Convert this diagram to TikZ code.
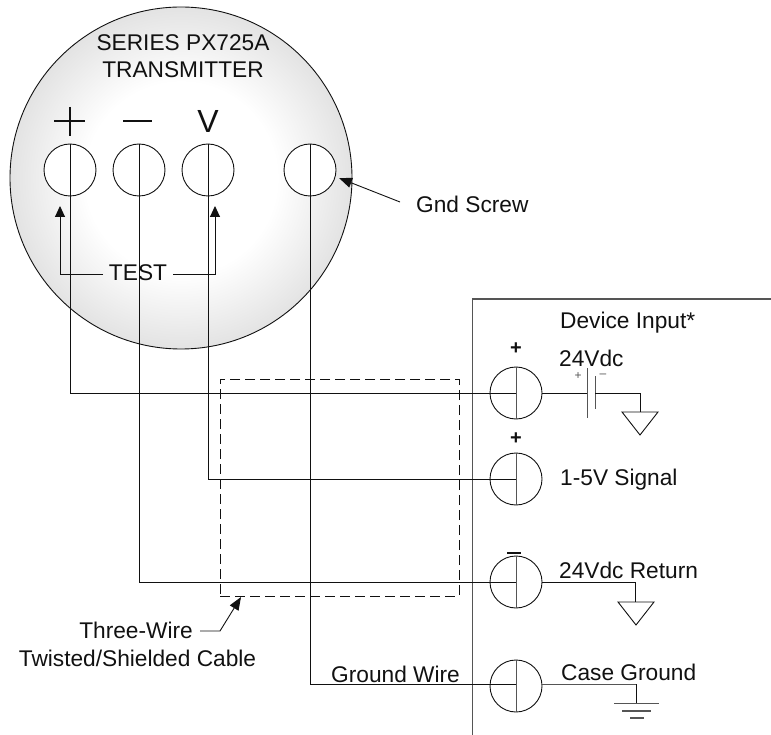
\documentclass[tikz,border=0pt]{standalone}
\usepackage{fontspec}
\setmainfont{Liberation Sans}
\usetikzlibrary{arrows.meta,calc}
\definecolor{ink}{HTML}{111111}
\definecolor{greyink}{HTML}{555555}
\pgfdeclareradialshading{bodyshade}{\pgfpointorigin}{
  color(0bp)=(white); color(14bp)=(white); color(25bp)=(black!11); color(50bp)=(black!11)}
\tikzset{
  x=1pt,y=-1pt,
  wire/.style={draw=ink,line width=0.9pt},
  greywire/.style={draw=greyink,line width=1pt},
  term/.style={circle,draw=ink,fill=white,line width=0.9pt,minimum size=52pt,inner sep=0pt},
  lab/.style={font=\fontsize{22.7}{26}\selectfont,text=ink,inner sep=0pt,anchor=west},
  clab/.style={font=\fontsize{22.7}{26}\selectfont,text=ink,inner sep=0pt,anchor=center},
  plus/.style={font=\fontsize{20}{22}\selectfont\bfseries,text=ink,inner sep=0pt},
  tiny/.style={font=\fontsize{12}{13}\selectfont,text=greyink,inner sep=0pt},
  point/.style={-{Triangle[length=11pt,width=10pt]},wire},
  gndtri/.style={draw=ink,line width=0.9pt},
}
\begin{document}
\begin{tikzpicture}
\useasboundingbox (0,0) rectangle (771,735);
% transmitter body
\node[circle,draw=ink,line width=0.9pt,minimum size=342pt,inner sep=0pt,
      shading=bodyshade] (body) at (181,178) {};
\node[clab] (ser) at (183,43) {SERIES PX725A};
\node[clab] (trn) at (183,70) {TRANSMITTER};
% polarity marks
\draw[ink,line width=1.5pt] (54,121) -- (85,121) (70,107) -- (70,136);
\draw[ink,line width=2pt] (123,121) -- (152,121);
\node[inner sep=0pt,font=\fontsize{32}{34}\selectfont,text=ink] (vlab) at (208,121) {V};
% terminals of the transmitter
\node[term] (tp) at (70,170) {};
\node[term] (tm) at (139,170) {};
\node[term] (tv) at (208,170) {};
\node[term] (tg) at (310,170) {};
% device box
\draw[greywire,line width=1.1pt] (771,299) -- (472.5,299) -- (472.5,735);
% device terminals
\node[term] (dp) at (516,393) {};
\node[term] (ds) at (516,479) {};
\node[term] (dr) at (516,582) {};
\node[term] (dc) at (516,686) {};
\coordinate (gw) at (516,684);
% wires
\draw[wire] (tp.north) -- (tp.north |- dp.center) -- (dp.center);
\draw[wire] (tv.north) -- (tv.north |- ds.center) -- (ds.center);
\draw[wire] (tm.north) -- (tm.north |- dr.center) -- (dr.center);
\draw[wire] (tg.north) -- (tg.north |- gw) -- (gw);
% device terminal bars
\foreach \n in {dp,ds,dr,dc} \draw[greywire] (\n.north) -- (\n.south);
% shield
\node[draw=ink,dash pattern=on 10pt off 5pt,line width=0.9pt,inner sep=0pt,
      minimum width=239pt,minimum height=217pt] (shield) at (339.5,487.5) {};
% TEST
\node[clab] (test) at (138,273) {TEST};
\coordinate (ta) at (60,206);
\coordinate (tb) at (215,206);
\draw[point] (103,274) -| (ta);
\draw[point] (173,274) -| (tb);
% gnd screw
\node[lab] (gs) at (416,204) {Gnd Screw};
\coordinate (gsa) at (400,202);
\draw[point,-{Triangle[length=13pt,width=10pt]}] (gsa) -- (339,178);
% cable label
\node[clab,anchor=east] (c1) at (193,630) {Three-Wire};
\node[clab] (c2) at (137.5,658) {Twisted/Shielded Cable};
\coordinate (ca) at (241,597);
\draw[point,-{Triangle[length=13pt,width=10pt]}] (200,631) -- (220,631) -- (ca);
% device labels
\node[lab] (dev) at (560,323) {Device Input*};
\node[lab] (v24) at (559,358) {24Vdc};
\node[lab] (sig) at (560,480) {1-5V Signal};
\node[lab] (ret) at (559,570) {24Vdc Return};
\node[lab] (cas) at (561,672) {Case Ground};
\node[lab] (gwl) at (331,674) {Ground Wire};
\node[plus] (p1) at (516,349) {+};
\node[plus] (p2) at (516,439) {+};
\draw[ink,line width=2pt] (507,553) -- (521,553);
% battery
\coordinate (b1) at (587,393);
\coordinate (b2) at (595,393);
\draw[wire] (dp.east) -- (b1);
\draw[greywire] (587,368) -- (587,418);
\draw[greywire] (595,376) -- (595,409);
\node[tiny] (bp) at (578,376) {+};
\node[tiny] (bm) at (603,376) {–};
\draw[wire] (b2) -- (640,393) -- (640,412);
\draw[gndtri] (622,412) -- (658,412) -- (640,435) -- cycle;
% return ground
\draw[wire] (dr.east) -- (635.5,582) -- (635.5,602);
\draw[gndtri] (618,602) -- (654,602) -- (636,625) -- cycle;
% case ground
\draw[greywire] (dc.east |- gw) -- (636,684);
\draw[wire] (636,684) -- (636,703.5);
\draw[greywire,line width=1.2pt] (614,703.5) -- (659,703.5) (622,711) -- (651,711) (630,718) -- (644,718);
\end{tikzpicture}
\end{document}
